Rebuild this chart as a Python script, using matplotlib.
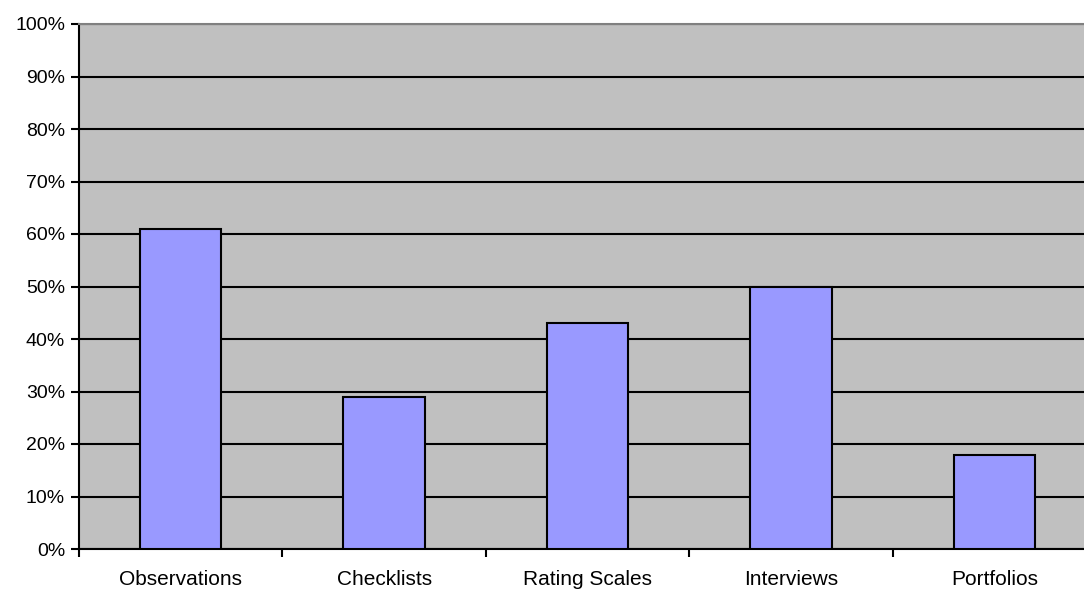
import matplotlib
matplotlib.use("Agg")
import matplotlib.pyplot as plt
from matplotlib.ticker import FixedLocator, PercentFormatter

categories = ["Observations", "Checklists", "Rating Scales", "Interviews", "Portfolios"]
values = [61, 29, 43, 50, 18]
y_ticks = [0, 10, 20, 30, 40, 50, 60, 70, 80, 90, 100]

plt.rcParams["font.family"] = ["Liberation Sans", "DejaVu Sans"]

W, H = 1084, 591
fig = plt.figure(figsize=(W / 100, H / 100), dpi=100)
ax = fig.add_axes([79 / W, 42 / H, 1017 / W, 525 / H])
ax.set_facecolor("#C0C0C0")

x = list(range(len(categories)))
ax.set_xlim(-0.5, len(categories) - 0.5)
ax.set_ylim(0, 100)

ax.set_yticks(y_ticks)
ax.yaxis.set_major_formatter(PercentFormatter(decimals=0))
ax.grid(axis="y", color="black", linewidth=1.5, zorder=1)
ax.set_axisbelow(True)

ax.bar(x, values, width=0.4, color="#9999FF", edgecolor="black",
       linewidth=1.5, zorder=3)

ax.set_xticks(x)
ax.set_xticklabels(categories)
ax.xaxis.set_minor_locator(FixedLocator([i + 0.5 for i in range(-1, len(categories))]))
ax.tick_params(axis="x", which="major", length=0, pad=15, labelsize=15)
ax.tick_params(axis="x", which="minor", length=6, width=1.5, direction="out")
ax.tick_params(axis="y", length=6, width=1.5, direction="out", labelsize=14, pad=4)

ax.spines["left"].set_linewidth(1.5)
ax.spines["bottom"].set_linewidth(1.5)
ax.spines["top"].set_color("#808080")
ax.spines["top"].set_linewidth(1.5)
ax.spines["right"].set_visible(False)

fig.savefig("out.png", dpi=100)
